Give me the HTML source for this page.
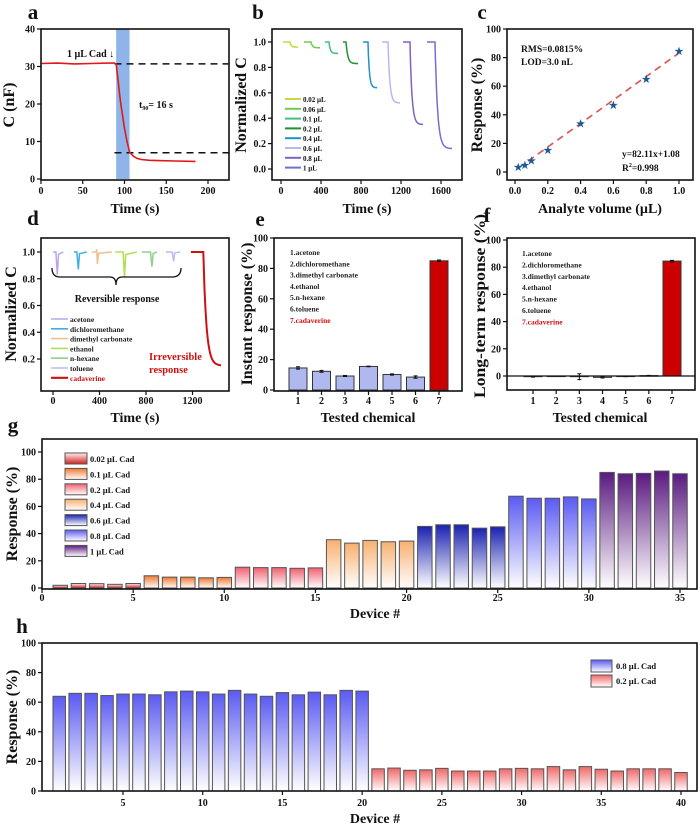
<!DOCTYPE html>
<html><head><meta charset="utf-8"><style>
html,body{margin:0;padding:0;background:#fff}
svg{display:block;font-family:"Liberation Serif",serif;font-weight:bold}
</style></head><body>
<svg id="fig" width="700" height="828" viewBox="0 0 700 828" xmlns="http://www.w3.org/2000/svg">
<defs>
<linearGradient id="gRed02" x1="0" y1="0" x2="0" y2="1"><stop offset="0" stop-color="#fff0f0"/><stop offset="1" stop-color="#d02020"/></linearGradient>
<linearGradient id="gOr" x1="0" y1="0" x2="0" y2="1"><stop offset="0" stop-color="#f07830"/><stop offset="1" stop-color="#fff"/></linearGradient>
<linearGradient id="gPink" x1="0" y1="0" x2="0" y2="1"><stop offset="0" stop-color="#f06070"/><stop offset="1" stop-color="#fff"/></linearGradient>
<linearGradient id="gPeach" x1="0" y1="0" x2="0" y2="1"><stop offset="0" stop-color="#f8b070"/><stop offset="1" stop-color="#fff"/></linearGradient>
<linearGradient id="gDBlue" x1="0" y1="0" x2="0" y2="1"><stop offset="0" stop-color="#1a22b0"/><stop offset="1" stop-color="#fff"/></linearGradient>
<linearGradient id="gBlue" x1="0" y1="0" x2="0" y2="1"><stop offset="0" stop-color="#5a5af2"/><stop offset="1" stop-color="#fff"/></linearGradient>
<linearGradient id="gPur" x1="0" y1="0" x2="0" y2="1"><stop offset="0" stop-color="#5a1a80"/><stop offset="1" stop-color="#fff"/></linearGradient>
<linearGradient id="gRedH" x1="0" y1="0" x2="0" y2="1"><stop offset="0" stop-color="#f06868"/><stop offset="1" stop-color="#fff"/></linearGradient>
</defs>
<g id="root"></g>
</svg>
<script>
// ---------- data ----------
// panel a
const aTimes=[0,20,40,60,80,88,90,92,95,98,100,103,106,110,115,120,130,140,160,185];
const aVals=[30.8,30.9,30.7,30.8,30.9,30.9,30.6,27,21,16.5,13.5,10,7.3,6.2,5.5,5.2,5.0,4.9,4.8,4.7];
// panel b
const bLabels=["0.02 µL","0.06 µL","0.1 µL","0.2 µL","0.4 µL","0.6 µL","0.8 µL","1 µL"];
const bStarts=[20,230,440,620,820,1010,1220,1460];
const bDrops=[90,300,480,650,870,1070,1290,1540];
const bEnds=[170,390,570,770,960,1190,1420,1710];
const bLevels=[0.96,0.955,0.91,0.83,0.64,0.52,0.35,0.16];
// panel c
const cX=[0.02,0.06,0.1,0.2,0.4,0.6,0.8,1.0];
const cY=[3.5,5,8,15.5,34,47,65,84.5];
const cSlope=82.11, cIntercept=1.08;
// panel d
const dLabels=["acetone","dichloromethane","dimethyl carbonate","ethanol","n-hexane","toluene","cadaverine"];
const dStarts=[0,181,334,535,765,972];
const dDips=[37,218,382,615,851,1037];
const dEnds=[89,290,506,722,894,1095];
const dDepth=[0.83,0.87,0.91,0.81,0.89,0.93];
const dCadStart=1187, dCadDrop=1293, dCadEnd=1445, dCadLevel=0.15;
// panel e
const eCats=[1,2,3,4,5,6,7];
const eVals=[14.5,12.3,9.2,15.5,10.2,8.5,85];
const eErr=[0.8,0.6,0.3,0.2,0.4,0.8,0.5];
// panel f
const fVals=[-0.5,0,-0.5,-1,-0.3,0.3,84.5];
const fErr=[0.3,0,2.2,0.5,0.2,0.2,0.5];
const chemNames=["1.acetone","2.dichloromethane","3.dimethyl carbonate","4.ethanol","5.n-hexane","6.toluene","7.cadaverine"];
// panel g
const gVals=[2,3.3,3.2,2.7,3.3,9,8,8,7.5,7.8,15.3,15,15,14.5,14.8,35.5,33,35,34,34.5,45.3,46.5,46.5,44,45,67.5,66,66,67,65.5,85,84,84.3,86,84];
const gLabels=["0.02 µL Cad","0.1 µL Cad","0.2 µL Cad","0.4 µL Cad","0.6 µL Cad","0.8 µL Cad","1 µL Cad"];
// panel h
const hBlue=[64,66,66,64.5,65.5,65.5,65,67,67.5,67,65.5,68,65.5,64,66.5,65,66.8,65,68,67.5];
const hRed=[15,15.5,14,14.3,15.3,13.5,13.5,13.5,15,15.3,15,16.5,14.3,16.5,14.7,13.5,15,15,15,12.5];
const hLabels=["0.8 µL Cad","0.2 µL Cad"];

// ---------- helpers ----------
const NS="http://www.w3.org/2000/svg";
const root=document.getElementById('root');
function mk(tag,attrs,parent){const e=document.createElementNS(NS,tag);for(const k in attrs)e.setAttribute(k,attrs[k]);(parent||root).appendChild(e);return e;}
function lin(d0,d1,p0,p1){return v=>p0+(v-d0)*(p1-p0)/(d1-d0);}
function txt(x,y,s,size,anchor,fill,rot){const t=mk('text',{x:x,y:y,'font-size':size,'text-anchor':anchor||'middle',fill:fill||'#111'});if(rot)t.setAttribute('transform','rotate(-90 '+x+' '+y+')');t.textContent=s;return t;}
function box(x0,y0,x1,y1,name){const r=mk('rect',{x:x0,y:y0,width:x1-x0,height:y1-y0,fill:'none',stroke:'#111','stroke-width':1.6});return r;}
function yTicks(vals,Y,x0,name,fmt){vals.forEach(v=>{const y=Y(v);const l=mk('line',{x1:x0-4,x2:x0,y1:y,y2:y,stroke:'#111','stroke-width':1.2});const t=txt(x0-6,y+3.5,fmt?fmt(v):String(v),10,'end');});}
function xTicks(vals,X,y0,name,fmt,ly){vals.forEach(v=>{const x=X(v);const l=mk('line',{x1:x,x2:x,y1:y0,y2:y0+4,stroke:'#111','stroke-width':1.2});const t=txt(x,ly||y0+14,fmt?fmt(v):String(v),10,'middle');});}
function path(pts,attrs){return mk('path',Object.assign({d:'M'+pts.map(p=>p[0].toFixed(1)+','+p[1].toFixed(1)).join('L'),fill:'none'},attrs));}
function letter(x,y,s){const t=txt(x,y,s,21,'middle');}
function f1(v){return v.toFixed(1);}

// ---------- panel a ----------
(function(){
letter(33,19,'a');
const X=lin(0,200,41,208), Y=lin(0,40,179,29);
const band=mk('rect',{x:X(90),y:29,width:X(106)-X(90),height:150,fill:'#8fb4ea'});

[30.7,7].forEach(v=>{const l=mk('line',{x1:X(88),x2:229,y1:Y(v),y2:Y(v),stroke:'#111','stroke-width':1.4,'stroke-dasharray':'7,5'});});
const p=path(aTimes.map((t,i)=>[X(t),Y(aVals[i])]),{stroke:'#e01818','stroke-width':1.6});

box(41,29,229,180,'plot-area-a');
yTicks([0,10,20,30,40],Y,41,'y-axis-a');
xTicks([0,50,100,150,200],X,180,'x-axis-a',null,194);
let t=txt(14,105,'C (nF)',16,'middle','#111',true);
t=txt(135,213,'Time (s)',14,'middle');
t=txt(67,57,'1 µL Cad ↓',10,'start');
t=mk('text',{x:139,y:108,'font-size':10,fill:'#111'});t.innerHTML='t<tspan font-size="6" dy="2">90</tspan><tspan dy="-2">= 16 s</tspan>';
})();

// ---------- panel b ----------
(function(){
letter(258,19,'b');
const cols=['#c8d840','#70cc50','#40c080','#209030','#2090c8','#b8b8f0','#8060c8','#7070d0'];
const X=lin(0,400,281,321), Y=lin(0,1,169,42);
bStarts.forEach((s,i)=>{const pts=[];for(let t=s;t<=bDrops[i];t+=5)pts.push([X(t),Y(1)]);
const L=bLevels[i],span=bEnds[i]-bDrops[i];for(let k=0;k<=40;k++){const t=bDrops[i]+span*k/40;const v=L+(1-L)*Math.exp(-k/6);pts.push([X(t),Y(v)]);}
const p=path(pts,{stroke:cols[i],'stroke-width':1.5});});
bLabels.forEach((s,i)=>{const y=99+i*9.8;const l=mk('line',{x1:285,x2:301,y1:y,y2:y,stroke:cols[i],'stroke-width':2});const t=txt(303,y+3,s,7,'start');});
box(272,29,462,180,'plot-area-b');
yTicks([0,0.2,0.4,0.6,0.8,1.0],Y,272,'y-axis-b',f1);
xTicks([0,400,800,1200,1600],X,180,'x-axis-b',null,194);
let t=txt(246,105,'Normalized C',16,'middle','#111',true);
t=txt(367,213,'Time (s)',14,'middle');
})();

// ---------- panel c ----------
(function(){
letter(482,19,'c');
const X=lin(0,1,515,679), Y=lin(0,100,172,29);
const l=mk('line',{x1:X(0.02),y1:Y(cSlope*0.02+cIntercept),x2:X(1),y2:Y(cSlope+cIntercept),stroke:'#e05050','stroke-width':1.6,'stroke-dasharray':'7,5'});

cX.forEach((x,i)=>{const s=txt(X(x),Y(cY[i])+3.5,'★',10,'middle','#1a5a9a');});
box(507,29,693,180,'plot-area-c');
yTicks([0,20,40,60,80,100],Y,507,'y-axis-c');
xTicks([0,0.2,0.4,0.6,0.8,1.0],X,180,'x-axis-c',f1,194);
let t=txt(482,105,'Response (%)',16,'middle','#111',true);
t=txt(600,213,'Analyte volume (µL)',14,'middle');
t=txt(521,52,'RMS=0.0815%',9.5,'start');
t=txt(521,65,'LOD=3.0 nL',9.5,'start');
t=txt(622,157,'y=82.11x+1.08',9.5,'start');
t=mk('text',{x:622,y:171,'font-size':9.5,fill:'#111'});t.innerHTML='R<tspan font-size="6" dy="-4">2</tspan><tspan dy="4">=0.998</tspan>';
})();

// ---------- panel d ----------
(function(){
letter(33,225,'d');
const cols=['#b8a8e8','#40aee8','#f0c090','#b0e050','#90d090','#c0b8f0','#d01010'];
const X=lin(0,400,53,99.5), Y=lin(0.2,1.0,359,252);
dStarts.forEach((s,i)=>{const pts=[[X(s),Y(1)]];const dip=dDips[i];pts.push([X(dip-12),Y(1)]);
if(i==2){pts.push([X(dip-6),Y(1.02)]);}
pts.push([X(dip),Y(dDepth[i])]);pts.push([X(dip+10),Y(1-(1-dDepth[i])*0.1)]);pts.push([X(dEnds[i]),Y(1)]);
const p=path(pts,{stroke:cols[i],'stroke-width':1.5});});
const cp=[[X(dCadStart),Y(1)],[X(dCadDrop),Y(1)]];for(let k=0;k<=40;k++){const t=dCadDrop+(dCadEnd-dCadDrop)*k/40;cp.push([X(t),Y(dCadLevel+(1-dCadLevel)*Math.exp(-k/7))]);}
const p=path(cp,{stroke:cols[6],'stroke-width':2});
const br=mk('path',{d:'M52,268 Q52,277 60,277 L110,277 Q116,277 116,285 Q116,277 122,277 L172,277 Q181,277 181,268',fill:'none',stroke:'#111','stroke-width':1.3});

let t=txt(117,302,'Reversible response',10,'middle');
dLabels.forEach((s,i)=>{const y=319+i*9.8;const l=mk('line',{x1:51,x2:68,y1:y,y2:y,stroke:cols[i],'stroke-width':i==6?2.2:1.6});const tt=txt(70,y+3,s,7.5,'start',i==6?'#d01010':'#222');});
t=txt(149,360,'Irreversible',10.5,'start','#d01010');
t=txt(149,373,'response',10.5,'start','#d01010');
box(41,238,229,391,'plot-area-d');
yTicks([0.2,0.4,0.6,0.8,1.0],Y,41,'y-axis-d',f1);
xTicks([0,400,800,1200],X,391,'x-axis-d',null,404);
t=txt(16,314,'Normalized C',16,'middle','#111',true);
t=txt(135,422,'Time (s)',14,'middle');
})();

// ---------- panel e ----------
(function(){
letter(260,226,'e');
const X=lin(1,7,298,439), Y=lin(0,100,390,238), bw=18;
eVals.forEach((v,i)=>{const x=X(eCats[i]);const r=mk('rect',{x:x-bw/2,y:Y(v),width:bw,height:Y(0)-Y(v),fill:i==6?'#cc0000':'#b0b8f0',stroke:'#333','stroke-width':1});
const e=mk('path',{d:`M${x-2},${Y(v+eErr[i])}H${x+2}M${x},${Y(v+eErr[i])}V${Y(v-eErr[i])}M${x-2},${Y(v-eErr[i])}H${x+2}`,stroke:'#111','stroke-width':1,fill:'none'});});
chemNames.forEach((s,i)=>{const t=txt(290,255+i*11.3,s,7.5,'start',i==6?'#d01010':'#222');});
box(274,238,462,391,'plot-area-e');
yTicks([0,20,40,60,80,100],Y,274,'y-axis-e');
xTicks(eCats,X,391,'x-axis-e',null,404);
let t=txt(252,314,'Instant response (%)',16,'middle','#111',true);
t=txt(368,422,'Tested chemical',14,'middle');
})();

// ---------- panel f ----------
(function(){
letter(487,222,'f');
const X=lin(1,7,533,672), Y=lin(0,100,376,240), bw=18;
fVals.forEach((v,i)=>{const x=X(eCats[i]);const top=Math.min(Y(v),Y(0)),h=Math.abs(Y(v)-Y(0));const r=mk('rect',{x:x-bw/2,y:top,width:bw,height:Math.max(h,0.6),fill:i==6?'#cc0000':'#b0b8f0',stroke:'#333','stroke-width':1});
if(fErr[i]>0){const e=mk('path',{d:`M${x-2},${Y(v+fErr[i])}H${x+2}M${x},${Y(v+fErr[i])}V${Y(v-fErr[i])}M${x-2},${Y(v-fErr[i])}H${x+2}`,stroke:'#111','stroke-width':1,fill:'none'});}});
const z=mk('line',{x1:507,x2:695,y1:Y(0),y2:Y(0),stroke:'#111','stroke-width':1.2});
chemNames.forEach((s,i)=>{const t=txt(522,256+i*11.4,s,7.5,'start',i==6?'#d01010':'#222');});
box(507,238,695,390,'plot-area-f');
yTicks([0,20,40,60,80,100],Y,507,'y-axis-f');
xTicks(eCats,X,390,'x-axis-f',null,404);
let t=txt(485,306,'Long-term response (%)',16,'middle','#111',true);t.setAttribute('textLength',184);t.setAttribute('lengthAdjust','spacingAndGlyphs');
t=txt(600,422,'Tested chemical',14,'middle');
})();

// ---------- panel g ----------
(function(){
letter(13,432,'g');
const fills=['url(#gRed02)','url(#gOr)','url(#gPink)','url(#gPeach)','url(#gDBlue)','url(#gBlue)','url(#gPur)'];
const X=lin(0,35,42,680), Y=lin(0,100,588,452), bw=14.5;
gVals.forEach((v,i)=>{const x=X(i+1);const r=mk('rect',{x:x-bw/2,y:Y(v),width:bw,height:Y(0)-Y(v),fill:fills[Math.floor(i/5)],stroke:'#555','stroke-width':1});});
gLabels.forEach((s,i)=>{const y=453+i*15.4;const r=mk('rect',{x:65,y:y,width:22,height:11,fill:fills[i],stroke:'#555','stroke-width':1});const t=txt(90,y+9,s,8.5,'start');});
box(42,439,697,589,'plot-area-g');
yTicks([0,20,40,60,80,100],Y,42,'y-axis-g');
xTicks([0,5,10,15,20,25,30,35],X,589,'x-axis-g',null,601);
let t=txt(17,514,'Response (%)',16,'middle','#111',true);
t=txt(375,618,'Device #',14,'middle');
})();

// ---------- panel h ----------
(function(){
letter(22,633,'h');
const X=lin(5,40,123,681), Y=lin(0,100,791,643), bw=12.5;
const all=hBlue.concat(hRed);
all.forEach((v,i)=>{const x=X(i+1);const r=mk('rect',{x:x-bw/2,y:Y(v),width:bw,height:Y(0)-Y(v),fill:i<20?'url(#gBlue)':'url(#gRedH)',stroke:'#555','stroke-width':1});});
hLabels.forEach((s,i)=>{const y=660+i*15;const r=mk('rect',{x:591,y:y,width:21,height:12,fill:i==0?'url(#gBlue)':'url(#gRedH)',stroke:'#555','stroke-width':1});const t=txt(616,y+9,s,8.5,'start');});
box(42,643,697,791,'plot-area-h');
yTicks([0,20,40,60,80,100],Y,42,'y-axis-h');
xTicks([5,10,15,20,25,30,35,40],X,791,'x-axis-h',null,806);
let t=txt(17,717,'Response (%)',16,'middle','#111',true);
t=txt(375,823,'Device #',14,'middle');
})();
</script>
</body></html>
